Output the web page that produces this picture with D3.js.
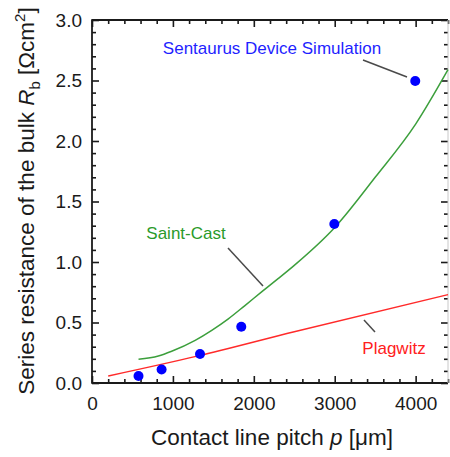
<!DOCTYPE html>
<html>
<head>
<meta charset="utf-8">
<script src="https://cdn.jsdelivr.net/npm/d3@7"></script>
<style>
	body { margin: 0; background: #ffffff; }
	text { font-family: "Liberation Sans", Arial, sans-serif; }
</style>
</head>
<body>
<svg id="mysvg" width="450" height="457"></svg>
<script>

// Sentaurus device simulation (blue dots)
var simPitch = [575, 860, 1335, 1845, 2995, 3995];
var simRb = [0.058, 0.112, 0.240, 0.465, 1.314, 2.496];

// Saint-Cast model (green curve)
var scPitch = [575, 820, 985, 1275, 1480, 1685, 1890, 2100, 2300, 2500, 3000, 3500, 4000, 4400];
var scRb = [0.196, 0.223, 0.262, 0.352, 0.435, 0.530, 0.640, 0.755, 0.862, 0.972, 1.285, 1.700, 2.140, 2.590];

// Plagwitz model (red line)
var plPitch = [200, 1300, 2500, 4400];
var plRb = [0.058, 0.222, 0.424, 0.730];

var xTicks = [0, 1000, 2000, 3000, 4000];
var yTicks = [0.0, 0.5, 1.0, 1.5, 2.0, 2.5, 3.0];

var svg = d3.select("#mysvg");

// plot box (window.top is taken, so use own names)
var pLeft = 92, pRight = 448, pTop = 20, pBottom = 383;

var x = d3.scaleLinear().domain([0, 4400]).range([pLeft, pRight]);
var y = d3.scaleLinear().domain([0, 3]).range([pBottom, pTop]);

var xMinor = d3.range(0, 4401, 200).filter(function (d) { return d % 1000 != 0; });
var yMinor = d3.range(0, 31, 1).filter(function (d) { return d % 5 != 0; }).map(function (d) { return d / 10; });

function styleAxis (g) {
	g.select(".domain").remove();
	g.selectAll("line").attr("stroke", "#1a1a1a").attr("stroke-width", 1.6);
	g.selectAll("text")
		.attr("fill", "#1a1a1a")
		.style("font-size", "19px")
		.style("font-family", "'Liberation Sans', Arial, sans-serif");
}

// bottom
svg.append("g").attr("transform", "translate(0," + pBottom + ")")
	.call(d3.axisBottom(x).tickValues(xMinor).tickSize(-4).tickFormat(""))
	.call(styleAxis);
svg.append("g").attr("transform", "translate(0," + pBottom + ")")
	.call(d3.axisBottom(x).tickValues(xTicks).tickSize(-7).tickPadding(14).tickFormat(d3.format("d")))
	.call(styleAxis);

// top
svg.append("g").attr("transform", "translate(0," + pTop + ")")
	.call(d3.axisTop(x).tickValues(xMinor).tickSize(-4).tickFormat(""))
	.call(styleAxis);
svg.append("g").attr("transform", "translate(0," + pTop + ")")
	.call(d3.axisTop(x).tickValues(xTicks).tickSize(-7).tickFormat(""))
	.call(styleAxis);

// left
svg.append("g").attr("transform", "translate(" + pLeft + ",0)")
	.call(d3.axisLeft(y).tickValues(yMinor).tickSize(-4).tickFormat(""))
	.call(styleAxis);
svg.append("g").attr("transform", "translate(" + pLeft + ",0)")
	.call(d3.axisLeft(y).tickValues(yTicks).tickSize(-7).tickPadding(10).tickFormat(d3.format(".1f")))
	.call(styleAxis);

// right
svg.append("g").attr("transform", "translate(" + pRight + ",0)")
	.call(d3.axisRight(y).tickValues(yMinor).tickSize(-4).tickFormat(""))
	.call(styleAxis);
svg.append("g").attr("transform", "translate(" + pRight + ",0)")
	.call(d3.axisRight(y).tickValues(yTicks).tickSize(-7).tickFormat(""))
	.call(styleAxis);

// frame
svg.append("line").attr("x1", pLeft).attr("x2", pLeft).attr("y1", pTop - 0.8).attr("y2", pBottom + 0.8)
	.attr("stroke", "#1a1a1a").attr("stroke-width", 1.8);
svg.append("line").attr("x1", pLeft).attr("x2", pRight).attr("y1", pBottom).attr("y2", pBottom)
	.attr("stroke", "#1a1a1a").attr("stroke-width", 1.8);
svg.append("line").attr("x1", pLeft).attr("x2", pRight).attr("y1", pTop).attr("y2", pTop)
	.attr("stroke", "#1a1a1a").attr("stroke-width", 1.8);
svg.append("line").attr("x1", pRight).attr("x2", pRight).attr("y1", pTop).attr("y2", pBottom)
	.attr("stroke", "#c8c8c8").attr("stroke-width", 1);

// curves
var line = d3.line()
	.x(function (d) { return x(d[0]); })
	.y(function (d) { return y(d[1]); })
	.curve(d3.curveMonotoneX);

svg.append("path")
	.datum(d3.zip(plPitch, plRb))
	.attr("d", line)
	.attr("fill", "none")
	.attr("stroke", "#ff2a2a")
	.attr("stroke-width", 1.4);

svg.append("path")
	.datum(d3.zip(scPitch, scRb))
	.attr("d", line)
	.attr("fill", "none")
	.attr("stroke", "#3c9f3c")
	.attr("stroke-width", 1.5);

svg.selectAll(".dot")
	.data(d3.zip(simPitch, simRb))
	.enter().append("circle")
	.attr("class", "dot")
	.attr("cx", function (d) { return x(d[0]); })
	.attr("cy", function (d) { return y(d[1]); })
	.attr("r", 5)
	.attr("fill", "#0000ff");

// labels with leader lines
function leader (x1, y1, x2, y2) {
	svg.append("line")
		.attr("x1", x1).attr("y1", y1)
		.attr("x2", x2).attr("y2", y2)
		.attr("stroke", "#4a4a4a")
		.attr("stroke-width", 1.5);
}

svg.append("text")
	.attr("x", 272).attr("y", 54)
	.attr("text-anchor", "middle")
	.attr("fill", "#1f1fff")
	.style("font-size", "17px")
	.text("Sentaurus Device Simulation");
leader(363, 60, 407, 77);

svg.append("text")
	.attr("x", 186).attr("y", 239)
	.attr("text-anchor", "middle")
	.attr("fill", "#2a9a2a")
	.style("font-size", "17px")
	.text("Saint-Cast");
leader(228, 248, 263, 286);

svg.append("text")
	.attr("x", 394).attr("y", 354)
	.attr("text-anchor", "middle")
	.attr("fill", "#ff2020")
	.style("font-size", "17px")
	.text("Plagwitz");
leader(364, 320, 375, 332);

// axis titles
var xTitle = svg.append("text")
	.attr("x", 272).attr("y", 445)
	.attr("text-anchor", "middle")
	.attr("fill", "#1a1a1a")
	.style("font-size", "22.5px");
xTitle.append("tspan").text("Contact line pitch ");
xTitle.append("tspan").style("font-style", "italic").text("p");
xTitle.append("tspan").text(" [\u03bcm]");

var yTitle = svg.append("text")
	.attr("transform", "translate(34,201) rotate(-90)")
	.attr("text-anchor", "middle")
	.attr("fill", "#1a1a1a")
	.style("font-size", "22.5px");
yTitle.append("tspan").text("Series resistance of the bulk ");
yTitle.append("tspan").style("font-style", "italic").text("R");
yTitle.append("tspan").attr("dy", 6).style("font-size", "15px").text("b");
yTitle.append("tspan").attr("dy", -6).text(" [\u03a9cm");
yTitle.append("tspan").attr("dy", -9).style("font-size", "15px").text("2");
yTitle.append("tspan").attr("dy", 9).text("]");

</script>
</body>
</html>
